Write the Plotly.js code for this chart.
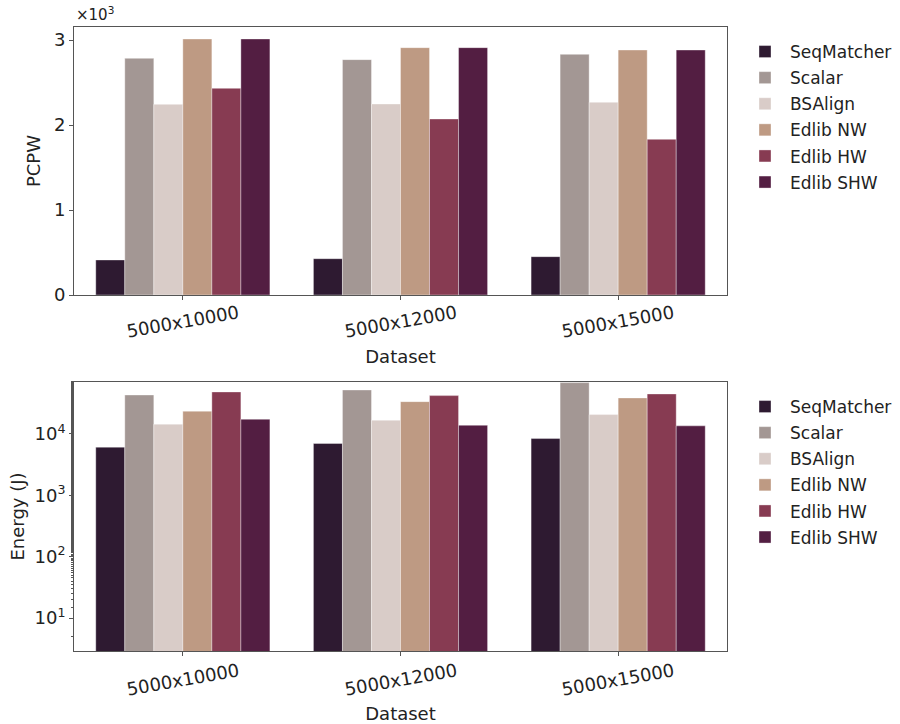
<!DOCTYPE html>
<html>
<head>
<meta charset="utf-8">
<script src="https://cdn.plot.ly/plotly-3.0.1.min.js"></script>
<style>html,body{margin:0;padding:0;background:#fff;}</style>
</head>
<body>
<div id="chart" style="width:900px;height:724px;"></div>
<script>
const datasets = ["5000x10000", "5000x12000", "5000x15000"];
const methods = ["SeqMatcher", "Scalar", "BSAlign", "Edlib NW", "Edlib HW", "Edlib SHW"];
const colors = ["#2e1a31", "#a39794", "#d9ccc8", "#be9a83", "#873b52", "#531e42"];

// PCPW values (plotted in units shown with x10^3)
const pcpwSeqMatcher = [412, 427, 451];
const pcpwScalar     = [2784, 2769, 2831];
const pcpwBSAlign    = [2243, 2247, 2267];
const pcpwEdlibNW    = [3012, 2910, 2882];
const pcpwEdlibHW    = [2431, 2071, 1831];
const pcpwEdlibSHW   = [3012, 2910, 2882];

// Energy (J)
const energySeqMatcher = [6070, 6960, 8390];
const energyScalar     = [43000, 51900, 68400];
const energyBSAlign    = [14400, 16700, 20600];
const energyEdlibNW    = [23400, 33500, 38500];
const energyEdlibHW    = [48200, 42000, 44700];
const energyEdlibSHW   = [17300, 13800, 13500];

const pcpw = [pcpwSeqMatcher, pcpwScalar, pcpwBSAlign, pcpwEdlibNW, pcpwEdlibHW, pcpwEdlibSHW];
const energy = [energySeqMatcher, energyScalar, energyBSAlign, energyEdlibNW, energyEdlibHW, energyEdlibSHW];

const pcpwTicks = [0, 1000, 2000, 3000];
const pcpwTickText = ["0", "1", "2", "3"];
const energyTicks = [10, 100, 1000, 10000];
const energyTickText = ["10<sup>1</sup>", "10<sup>2</sup>", "10<sup>3</sup>", "10<sup>4</sup>"];

const FONT = "DejaVu Sans, sans-serif";
const TXT = "#222";
const traces = [];
methods.forEach((m, i) => {
  traces.push({
    type: "bar", x: datasets, y: pcpw[i], name: m,
    marker: {color: colors[i], line: {width: 0.6, color: "rgba(255,255,255,0.6)"}},
    xaxis: "x", yaxis: "y", legend: "legend", legendgroup: "a" + i
  });
});
methods.forEach((m, i) => {
  traces.push({
    type: "bar", x: datasets, y: energy[i], name: m,
    marker: {color: colors[i], line: {width: 0.6, color: "rgba(255,255,255,0.6)"}},
    xaxis: "x2", yaxis: "y2", legend: "legend2", legendgroup: "b" + i
  });
});

const H = 724, W = 900;
const py = v => 1 - v / H;
const px = v => v / W;

const axisCommon = {
  showline: true, mirror: true, linecolor: "#555", linewidth: 1,
  ticks: "outside", ticklen: 4, tickcolor: "#555",
  showgrid: false, zeroline: false,
  tickfont: {family: FONT, size: 18, color: TXT},
  automargin: false
};

const annotations = [{
  xref: "paper", yref: "paper", x: px(74), y: py(26), xanchor: "left", yanchor: "bottom",
  text: "×10<sup>3</sup>", showarrow: false, font: {family: FONT, size: 15, color: TXT}
}];
datasets.forEach(d => {
  annotations.push({xref: "x", yref: "paper", x: d, y: py(322), xanchor: "center", yanchor: "middle",
    text: d, textangle: -10, showarrow: false, font: {family: FONT, size: 18, color: TXT}});
  annotations.push({xref: "x2", yref: "paper", x: d, y: py(679), xanchor: "center", yanchor: "middle",
    text: d, textangle: -10, showarrow: false, font: {family: FONT, size: 18, color: TXT}});
});

const layout = {
  width: W, height: H,
  margin: {l: 0, r: 0, t: 0, b: 0},
  paper_bgcolor: "#fff", plot_bgcolor: "#fff",
  barmode: "group", bargap: 0.2, bargroupgap: 0,
  font: {family: FONT, color: TXT},
  xaxis: Object.assign({}, axisCommon, {
    domain: [px(74), px(727)], anchor: "y", range: [-0.5, 2.5], showticklabels: false,
    title: {text: "Dataset", font: {family: FONT, size: 18, color: TXT}, standoff: 51}
  }),
  yaxis: Object.assign({}, axisCommon, {
    domain: [py(295), py(27)], anchor: "x", range: [0, 3153],
    tickvals: pcpwTicks, ticktext: pcpwTickText,
    title: {text: "PCPW", font: {family: FONT, size: 18, color: TXT}, standoff: 8}
  }),
  xaxis2: Object.assign({}, axisCommon, {
    domain: [px(74), px(727)], anchor: "y2", range: [-0.5, 2.5], showticklabels: false,
    title: {text: "Dataset", font: {family: FONT, size: 18, color: TXT}, standoff: 52}
  }),
  yaxis2: Object.assign({}, axisCommon, {
    domain: [py(651), py(382)], anchor: "x2", type: "log", range: [0.463, 4.845],
    tickvals: energyTicks, ticktext: energyTickText,
    minor: {ticks: "outside", ticklen: 2, tickcolor: "#555", showgrid: false},
    title: {text: "Energy (J)", font: {family: FONT, size: 18, color: TXT}, standoff: 5}
  }),
  legend: {
    x: px(740), y: py(34), xanchor: "left", yanchor: "top",
    font: {family: FONT, size: 17, color: TXT},
    bgcolor: "rgba(0,0,0,0)", tracegroupgap: 1, itemwidth: 40
  },
  legend2: {
    x: px(740), y: py(389), xanchor: "left", yanchor: "top",
    font: {family: FONT, size: 17, color: TXT},
    bgcolor: "rgba(0,0,0,0)", tracegroupgap: 1, itemwidth: 40
  },
  annotations: annotations
};

Plotly.newPlot("chart", traces, layout, {displayModeBar: false, staticPlot: true});
</script>
</body>
</html>
